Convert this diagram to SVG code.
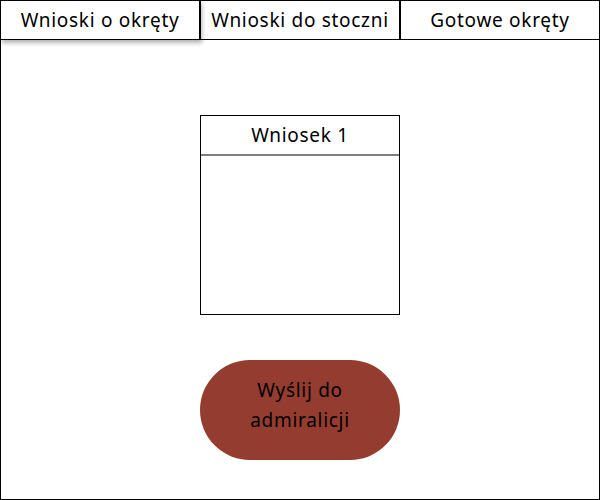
<svg xmlns="http://www.w3.org/2000/svg" width="600" height="500" viewBox="0 0 600 500">
<defs>
<filter id="sh" x="-10%" y="-20%" width="130%" height="160%">
<feDropShadow dx="2" dy="3" stdDeviation="2" flood-color="#000" flood-opacity="0.3"/>
</filter>
<style>
.b{fill:#fff;stroke:#000;stroke-width:1}
.t{font-family:"Noto Sans","Open Sans",sans-serif;font-size:19px;letter-spacing:0.7px;fill:#000;text-anchor:middle}
</style>
</defs>
<rect x="0" y="0" width="600" height="500" fill="#fff"/>
<rect id="frame" x="0.5" y="0.5" width="599" height="499" fill="#fff" stroke="#000"/>
<g id="tab3"><rect class="b" x="400.5" y="0.5" width="199" height="39"/><text class="t" x="500" y="27">Gotowe okręty</text></g>
<g id="tab2"><rect class="b" x="200.5" y="0.5" width="199" height="39"/><text class="t" x="300" y="27">Wnioski do stoczni</text></g>
<g id="tab1"><rect class="b" x="0.5" y="0.5" width="199" height="39" filter="url(#sh)"/><text class="t" x="100" y="27">Wnioski o okręty</text></g>
<g id="card">
<rect class="b" x="200.5" y="115.5" width="199" height="199"/>
<line x1="200.5" y1="155" x2="399.5" y2="155" stroke="#000"/>
<text class="t" x="300" y="142">Wniosek 1</text>
</g>
<g id="button">
<rect x="200" y="360" width="200" height="100" rx="50" ry="50" fill="#943c30"/>
<text class="t" x="300" y="397">Wyślij do</text>
<text class="t" x="300" y="427">admiralicji</text>
</g>
<g id="connectors"/>
</svg>
